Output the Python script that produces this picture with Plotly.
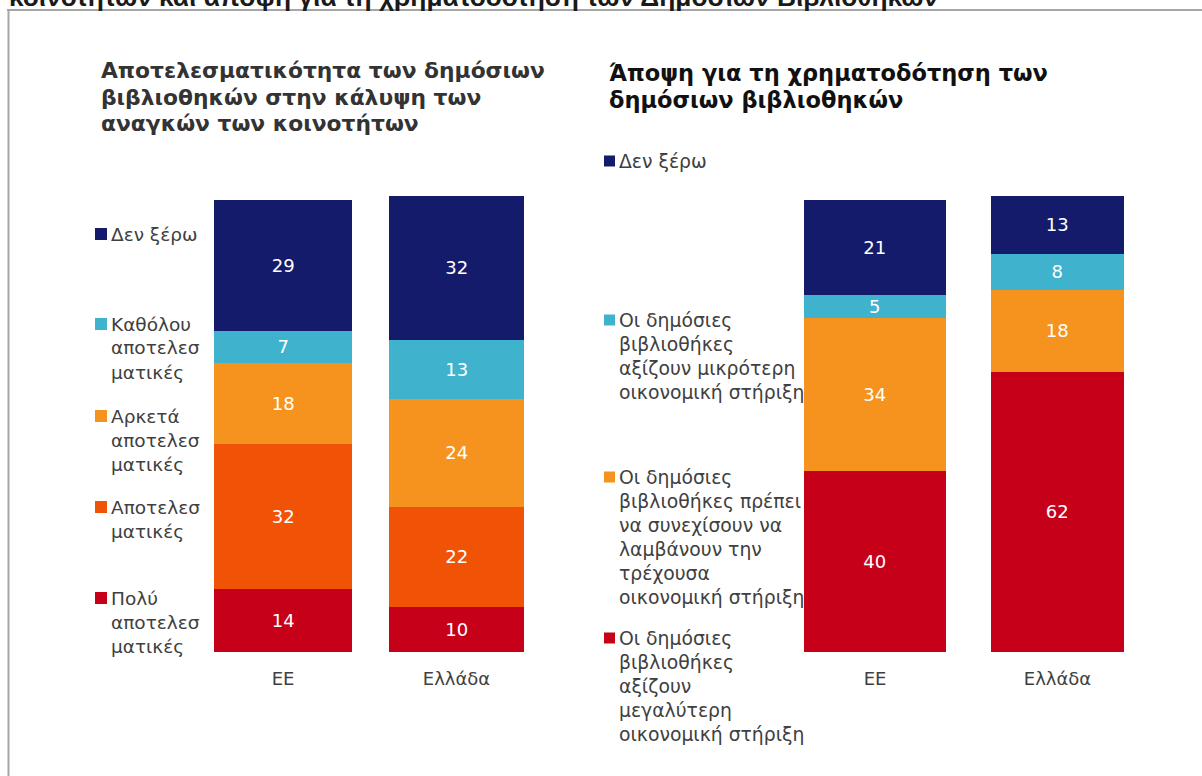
import plotly.graph_objects as go

W, H = 1202, 776

# ---------------- data ----------------
categories = ["ΕΕ", "Ελλάδα"]

# Left chart: Αποτελεσματικότητα των δημόσιων βιβλιοθηκών
left_names = ["Πολύ αποτελεσματικές", "Αποτελεσματικές", "Αρκετά αποτελεσματικές",
              "Καθόλου αποτελεσματικές", "Δεν ξέρω"]
left_poly = [14, 10]
left_apotel = [32, 22]
left_arketa = [18, 24]
left_katholou = [7, 13]
left_den_xero = [29, 32]

# Right chart: Άποψη για τη χρηματοδότηση
right_names = ["Οι δημόσιες βιβλιοθήκες αξίζουν μεγαλύτερη οικονομική στήριξη",
               "Οι δημόσιες βιβλιοθήκες πρέπει να συνεχίσουν να λαμβάνουν την τρέχουσα οικονομική στήριξη",
               "Οι δημόσιες βιβλιοθήκες αξίζουν μικρότερη οικονομική στήριξη",
               "Δεν ξέρω"]
right_megalyteri = [40, 62]
right_trexousa = [34, 18]
right_mikroteri = [5, 8]
right_den_xero = [21, 13]

# legend labels as displayed (wrapped)
left_legend_lines = [
    ["Δεν ξέρω"],
    ["Καθόλου", "αποτελεσ", "ματικές"],
    ["Αρκετά", "αποτελεσ", "ματικές"],
    ["Αποτελεσ", "ματικές"],
    ["Πολύ", "αποτελεσ", "ματικές"],
]
right_legend_lines = [
    ["Δεν ξέρω"],
    ["Οι δημόσιες", "βιβλιοθήκες", "αξίζουν μικρότερη", "οικονομική στήριξη"],
    ["Οι δημόσιες", "βιβλιοθήκες πρέπει", "να συνεχίσουν να", "λαμβάνουν την", "τρέχουσα", "οικονομική στήριξη"],
    ["Οι δημόσιες", "βιβλιοθήκες", "αξίζουν", "μεγαλύτερη", "οικονομική στήριξη"],
]

title_left = ["Αποτελεσματικότητα των δημόσιων", "βιβλιοθηκών στην κάλυψη των", "αναγκών των κοινοτήτων"]
title_right = ["Άποψη για τη χρηματοδότηση των", "δημόσιων βιβλιοθηκών"]
top_title = "κοινοτήτων και άποψη για τη χρηματοδότηση των Δημόσιων Βιβλιοθηκών"

# ---------------- style ----------------
NAVY = "#141B6A"
CYAN = "#3FB2CE"
ORANGE = "#F6931E"
DKORANGE = "#F05206"
RED = "#C7001A"
TXT = "#404040"
FONT = "DejaVu Sans"


def px(x):
    return x / W


def py(y):
    return 1 - y / H


fig = go.Figure()

left_series = [(left_names[0], left_poly, RED), (left_names[1], left_apotel, DKORANGE),
               (left_names[2], left_arketa, ORANGE), (left_names[3], left_katholou, CYAN),
               (left_names[4], left_den_xero, NAVY)]
right_series = [(right_names[0], right_megalyteri, RED), (right_names[1], right_trexousa, ORANGE),
                (right_names[2], right_mikroteri, CYAN), (right_names[3], right_den_xero, NAVY)]

for name, vals, col in left_series:
    fig.add_trace(go.Bar(x=categories, y=vals, name=name, marker=dict(color=col, line=dict(width=0)),
                         width=[0.795, 0.778], text=[str(v) for v in vals], textposition="inside",
                         insidetextanchor="middle", constraintext="none", textangle=0,
                         textfont=dict(color="white", size=18, family=FONT),
                         showlegend=False, hoverinfo="skip", xaxis="x", yaxis="y"))
for name, vals, col in right_series:
    fig.add_trace(go.Bar(x=categories, y=vals, name=name, marker=dict(color=col, line=dict(width=0)),
                         width=[0.778, 0.729], text=[str(v) for v in vals], textposition="inside",
                         insidetextanchor="middle", constraintext="none", textangle=0,
                         textfont=dict(color="white", size=18, family=FONT),
                         showlegend=False, hoverinfo="skip", xaxis="x2", yaxis="y2"))

scale = 4.52
y_bottom = 652
ymax = 102
ydom = [py(y_bottom), py(y_bottom - ymax * scale)]

axis_x = dict(type="category", range=[-0.5, 1.5], showgrid=False, zeroline=False, showline=False,
              ticks="", ticklabelstandoff=14,
              tickfont=dict(size=18, color=TXT, family=FONT), fixedrange=True)
axis_y = dict(range=[0, ymax], visible=False, fixedrange=True)

shapes = []
annotations = []

# frame
shapes.append(dict(type="line", xref="paper", yref="paper", x0=px(7), x1=px(W + 5), y0=py(10), y1=py(10),
                   line=dict(color="#A6A6A6", width=2)))
shapes.append(dict(type="line", xref="paper", yref="paper", x0=px(8.5), x1=px(8.5), y0=py(9), y1=py(H + 5),
                   line=dict(color="#A6A6A6", width=2)))

# cut-off top title
annotations.append(dict(text="<b>" + top_title + "</b>", xref="paper", yref="paper", x=px(7), y=py(-3.5),
                        xanchor="left", yanchor="middle", showarrow=False,
                        font=dict(family="Liberation Sans", size=26.3, color="#1a1a1a")))


def add_lines(x, y0, lines, lh, font, bold=False):
    for i, t in enumerate(lines):
        annotations.append(dict(text=("<b>%s</b>" % t) if bold else t, xref="paper", yref="paper",
                                x=px(x), y=py(y0 + i * lh), xanchor="left", yanchor="middle",
                                showarrow=False, font=font))


add_lines(99, 70, title_left, 27, dict(family=FONT, size=21.8, color="#333333"), bold=True)
add_lines(607, 73, title_right, 27, dict(family=FONT, size=22.5, color="#111111"), bold=True)

left_leg_font = dict(family=FONT, size=18.5, color=TXT)
right_leg_font = dict(family=FONT, size=18.8, color=TXT)
left_leg_colors = [NAVY, CYAN, ORANGE, DKORANGE, RED]
left_leg_y = [234, 324, 416, 507, 598]
for lines, col, y0 in zip(left_legend_lines, left_leg_colors, left_leg_y):
    shapes.append(dict(type="rect", xref="paper", yref="paper", x0=px(95), x1=px(107),
                       y0=py(y0 - 6), y1=py(y0 + 6), fillcolor=col, line=dict(width=0)))
    add_lines(109, y0, lines, 24, left_leg_font)

right_leg_colors = [NAVY, CYAN, ORANGE, RED]
right_leg_y = [161, 320, 477, 638]
for lines, col, y0 in zip(right_legend_lines, right_leg_colors, right_leg_y):
    shapes.append(dict(type="rect", xref="paper", yref="paper", x0=px(604), x1=px(615),
                       y0=py(y0 - 5.5), y1=py(y0 + 5.5), fillcolor=col, line=dict(width=0)))
    add_lines(617, y0, lines, 24, right_leg_font)

fig.update_layout(
    width=W, height=H, autosize=False,
    margin=dict(l=0, r=0, t=0, b=0, pad=0),
    paper_bgcolor="white", plot_bgcolor="white",
    barmode="stack", bargap=0,
    xaxis=dict(axis_x, domain=[px(196.25), px(543.25)], anchor="y"),
    yaxis=dict(axis_y, domain=ydom, anchor="x"),
    xaxis2=dict(axis_x, domain=[px(783.75), px(1148.75)], anchor="y2"),
    yaxis2=dict(axis_y, domain=ydom, anchor="x2"),
    shapes=shapes, annotations=annotations,
    font=dict(family=FONT, color=TXT),
)

fig.write_html("out.html", config={"displayModeBar": False},
               post_script="document.body.style.margin='0';document.body.style.overflow='hidden';")
